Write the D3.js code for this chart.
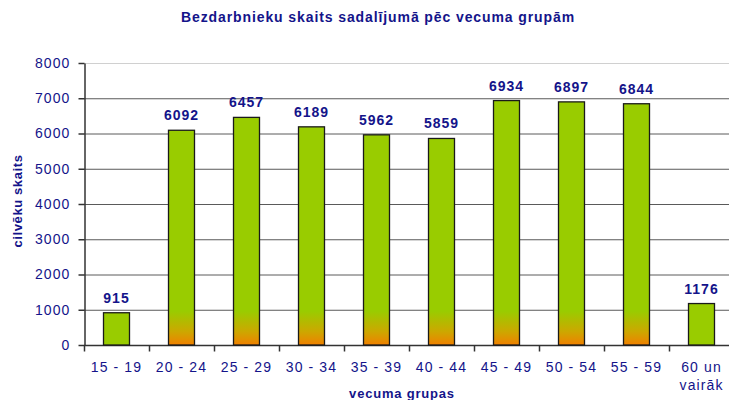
<!DOCTYPE html>
<html>
<head>
<meta charset="utf-8">
<script src="https://cdn.jsdelivr.net/npm/d3@7"></script>
<style>
  body { margin: 0; background: #fff; }
  svg { display: block; font-family: Arial, "Liberation Sans", sans-serif; }
</style>
</head>
<body>
<svg id="chart" width="729" height="400"></svg>
<script>
//
// Data
//
const groups = ["15 - 19", "20 - 24", "25 - 29", "30 - 34", "35 - 39", "40 - 44", "45 - 49", "50 - 54", "55 - 59", "60 un vairāk"];
const counts = [915, 6092, 6457, 6189, 5962, 5859, 6934, 6897, 6844, 1176];
const yTicks = [0, 1000, 2000, 3000, 4000, 5000, 6000, 7000, 8000];

const title = "Bezdarbnieku skaits sadalījumā pēc vecuma grupām";
const yTitle = "cilvēku skaits";
const xTitle = "vecuma grupas";

//
// Config
//
const navy = "#14148a";
const green = "#99cc00";
const orange = "#f08000";
const gridColor = "#5a5a5a";
const plotLeft = 84, plotRight = 734, plotTop = 63, plotBottom = 345;

const svg = d3.select("#chart");

const x = d3.scaleBand()
  .domain(groups)
  .range([plotLeft, plotRight])
  .paddingInner(0.6)
  .paddingOuter(0.3);

const y = d3.scaleLinear().domain([0, 8000]).range([plotBottom, plotTop]);

// orange glow at the base of the tall bars
const defs = svg.append("defs");
const grad = defs.append("linearGradient")
  .attr("id", "baseGlow")
  .attr("gradientUnits", "userSpaceOnUse")
  .attr("x1", 0).attr("x2", 0)
  .attr("y1", y(0)).attr("y2", y(0) - 34);
grad.append("stop").attr("offset", 0).attr("stop-color", orange);
grad.append("stop").attr("offset", 0.4).attr("stop-color", "#cca800");
grad.append("stop").attr("offset", 1).attr("stop-color", green);

// grid lines
svg.append("g")
  .selectAll("line")
  .data(yTicks.filter(d => d > 0))
  .join("line")
  .attr("x1", plotLeft).attr("x2", plotRight)
  .attr("y1", d => y(d) + 0.5).attr("y2", d => y(d) + 0.5)
  .attr("stroke", d => d === 8000 ? "#d0d0d0" : gridColor)
  .attr("stroke-width", 1);

// y axis
const yAxis = svg.append("g")
  .attr("transform", `translate(${plotLeft + 0.5},0)`)
  .call(d3.axisLeft(y).tickValues(yTicks).tickFormat(d3.format("d"))
    .tickSize(6).tickPadding(8).tickSizeOuter(0));
yAxis.select(".domain").attr("stroke", "#333").attr("stroke-width", 1.5);
yAxis.selectAll(".tick line").attr("stroke", "#333").attr("stroke-width", 1.5);
yAxis.selectAll("text")
  .attr("fill", navy)
  .style("font-size", "14px")
  .style("letter-spacing", "1.1px")
  .style("font-family", "Arial, 'Liberation Sans', sans-serif");

// x axis: ticks between categories
const xAxisG = svg.append("g").attr("transform", `translate(0,${plotBottom + 0.5})`);
xAxisG.append("line")
  .attr("x1", plotLeft).attr("x2", plotRight)
  .attr("stroke", "#333").attr("stroke-width", 1.5);
const bounds = d3.range(groups.length + 1).map(i => plotLeft + i * x.step());
xAxisG.selectAll(".tk")
  .data(bounds)
  .join("line")
  .attr("class", "tk")
  .attr("x1", d => d + 0.5).attr("x2", d => d + 0.5)
  .attr("y1", 0).attr("y2", 6)
  .attr("stroke", "#333").attr("stroke-width", 1.5);

const xLabels = svg.append("g")
  .selectAll("text")
  .data(groups)
  .join("text")
  .attr("text-anchor", "middle")
  .attr("fill", navy)
  .style("font-size", "14px")
  .style("letter-spacing", "1.1px")
  .attr("transform", d => `translate(${x(d) + x.bandwidth() / 2},372)`);
xLabels.each(function (d) {
  const parts = d === "60 un vairāk" ? ["60 un", "vairāk"] : [d];
  d3.select(this).selectAll("tspan")
    .data(parts)
    .join("tspan")
    .attr("x", 0)
    .attr("dy", (p, i) => i === 0 ? 0 : 18)
    .text(p => p);
});

// bars
svg.append("g")
  .selectAll("rect")
  .data(counts)
  .join("rect")
  .attr("x", (d, i) => x(groups[i]))
  .attr("y", d => y(d))
  .attr("width", x.bandwidth())
  .attr("height", d => y(0) - y(d))
  .attr("fill", d => d > 2000 ? "url(#baseGlow)" : green)
  .attr("stroke", "#1a1a1a")
  .attr("stroke-width", 1.3);

// value labels
svg.append("g")
  .selectAll("text")
  .data(counts)
  .join("text")
  .attr("x", (d, i) => x(groups[i]) + x.bandwidth() / 2)
  .attr("y", d => y(d) - 10)
  .attr("text-anchor", "middle")
  .attr("fill", navy)
  .style("font-size", "14px")
  .style("font-weight", "bold")
  .style("letter-spacing", "1px")
  .text(d => d);

// titles
svg.append("text")
  .attr("x", 378).attr("y", 22)
  .attr("text-anchor", "middle")
  .attr("fill", navy)
  .style("font-size", "14px")
  .style("font-weight", "bold")
  .style("letter-spacing", "0.9px")
  .text(title);

svg.append("text")
  .attr("transform", "translate(22,201) rotate(-90)")
  .attr("text-anchor", "middle")
  .attr("fill", navy)
  .style("font-size", "13px")
  .style("font-weight", "bold")
  .style("letter-spacing", "0.6px")
  .text(yTitle);

svg.append("text")
  .attr("x", 402).attr("y", 398)
  .attr("text-anchor", "middle")
  .attr("fill", navy)
  .style("font-size", "13px")
  .style("font-weight", "bold")
  .style("letter-spacing", "0.8px")
  .text(xTitle);
</script>
</body>
</html>
